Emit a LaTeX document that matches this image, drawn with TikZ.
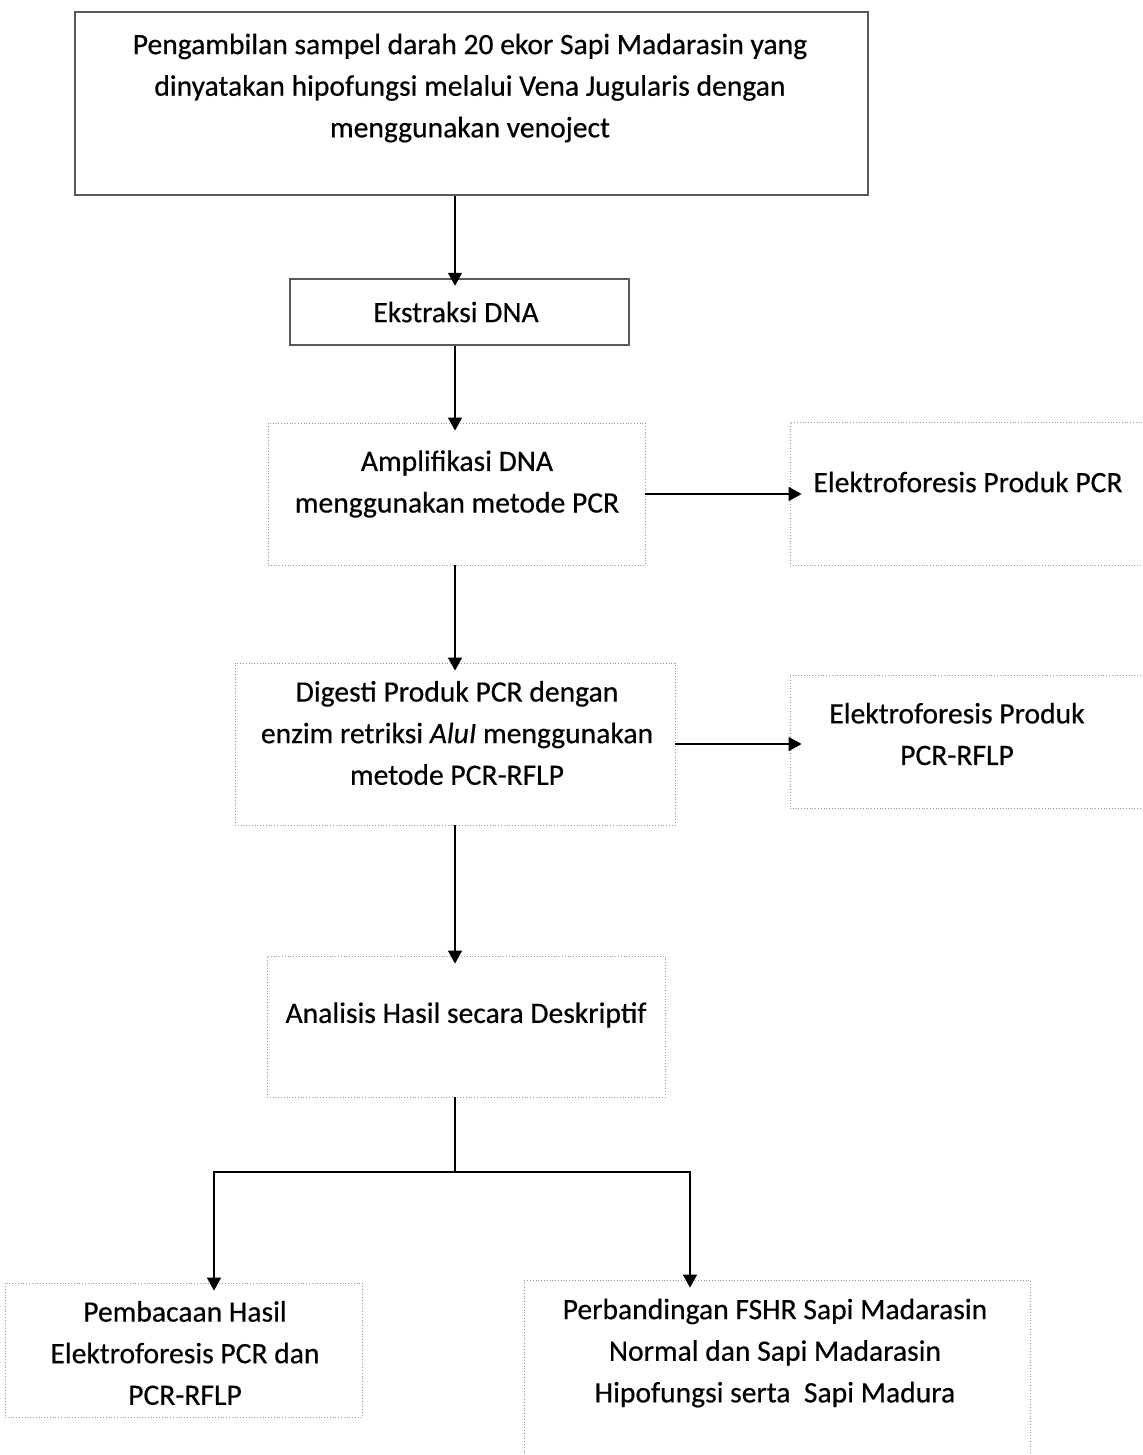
\documentclass[tikz,border=0pt]{standalone}
\usepackage{fontspec}
\setmainfont{Carlito}[FakeBold=0.45]
\usetikzlibrary{arrows.meta}
\usepackage{xcolor}
\colorlet{myframe}{black!65}
\colorlet{myfaint}{black!40}
\tikzset{
  >={Triangle[width=7pt,length=6.5pt]},
  box/.style={draw=myframe, line width=1.2pt, inner sep=0pt},
  box faint/.style={draw=myfaint, densely dotted, line width=0.4pt, inner sep=0pt},
  boxtext/.style={font=\fontsize{14.8}{20.8}\selectfont, align=center, inner sep=0pt},
  connect/.style={line width=0.7pt, black, shorten >=-4pt}
}

\begin{document}
\begin{tikzpicture}[x=0.5pt,y=-0.5pt]
  \useasboundingbox (0,0) rectangle (1143,1455);

  % --- MAIN COLUMN ---
  \coordinate (axis) at (455,0);

  % Sampling
  \node[box, minimum width=396.5pt, minimum height=91.5pt] (sample) at (471.5,103.5) {};
  \node[boxtext] (sample-txt) at (470,88) {Pengambilan sampel darah 20 ekor Sapi Madarasin yang\\dinyatakan hipofungsi melalui Vena Jugularis dengan\\menggunakan venoject};

  % Extraction
  \node[box, minimum width=169.5pt, minimum height=33pt] (extract) at (459.5,312) {};
  \node[boxtext] (extract-txt) at (456,312) {Ekstraksi DNA};

  % PCR
  \node[box faint, minimum width=188.5pt, minimum height=71pt] (amplify) at (456.5,494) {};
  \node[boxtext] (amplify-txt) at (457,484) {Amplifikasi DNA\\menggunakan metode PCR};

  % PCR-RFLP
  \node[box faint, minimum width=220pt, minimum height=81pt] (digest) at (455,744) {};
  \node[boxtext] (digest-txt) at (457,733) {Digesti Produk PCR dengan\\enzim retriksi \textit{AluI} menggunakan\\metode PCR-RFLP};

  % Analysis
  \node[box faint, minimum width=199pt, minimum height=70.5pt] (analyze) at (466,1026.5) {};
  \node[boxtext] (analyze-txt) at (466,1015) {Analisis Hasil secara Deskriptif};

  % --- SIDE BOXES ---
  \node[box faint, minimum width=179pt, minimum height=71.5pt] (elpcr) at (969,494) {};
  \node[boxtext] (elpcr-txt) at (968,482) {Elektroforesis Produk PCR};

  \node[box faint, minimum width=179pt, minimum height=66.5pt] (elrflp) at (969,741.5) {};
  \node[boxtext] (elrflp-txt) at (957,734) {Elektroforesis Produk\\PCR-RFLP};

  % --- OUTCOMES ---
  \node[box faint, minimum width=178.5pt, minimum height=67pt] (reading) at (183.5,1350) {};
  \node[boxtext] (reading-txt) at (185,1353) {Pembacaan Hasil\\Elektroforesis PCR dan\\PCR-RFLP};

  \node[box faint, minimum width=253pt, minimum height=91pt] (compare) at (777,1371) {};
  \node[boxtext] (compare-txt) at (775,1353) {Perbandingan FSHR Sapi Madarasin\\Normal dan Sapi Madarasin\\Hipofungsi serta~ Sapi Madura};

  % Connections
  \draw[connect, ->] (sample.south -| axis) -- (extract.north -| axis);
  \draw[connect, ->] (extract.south -| axis) -- (amplify.north -| axis);
  \draw[connect, ->] (amplify.south -| axis) -- (digest.north -| axis);
  \draw[connect, ->] (digest.south -| axis) -- (analyze.north -| axis);
  \draw[connect, ->, shorten >=-6pt] (amplify.east) -- (elpcr.west |- amplify.east);
  \draw[connect, ->, shorten >=-6pt] (digest.east) -- (elrflp.west |- digest.east);

  \coordinate (split) at (455,1172);
  \coordinate (left) at (214,0);
  \coordinate (right) at (690,0);
  \draw[connect, shorten >=0pt] (analyze.south -| axis) -- (split);
  \draw[connect, ->] (split) -| (reading.north -| left);
  \draw[connect, ->] (split) -| (compare.north -| right);

\end{tikzpicture}
\end{document}
